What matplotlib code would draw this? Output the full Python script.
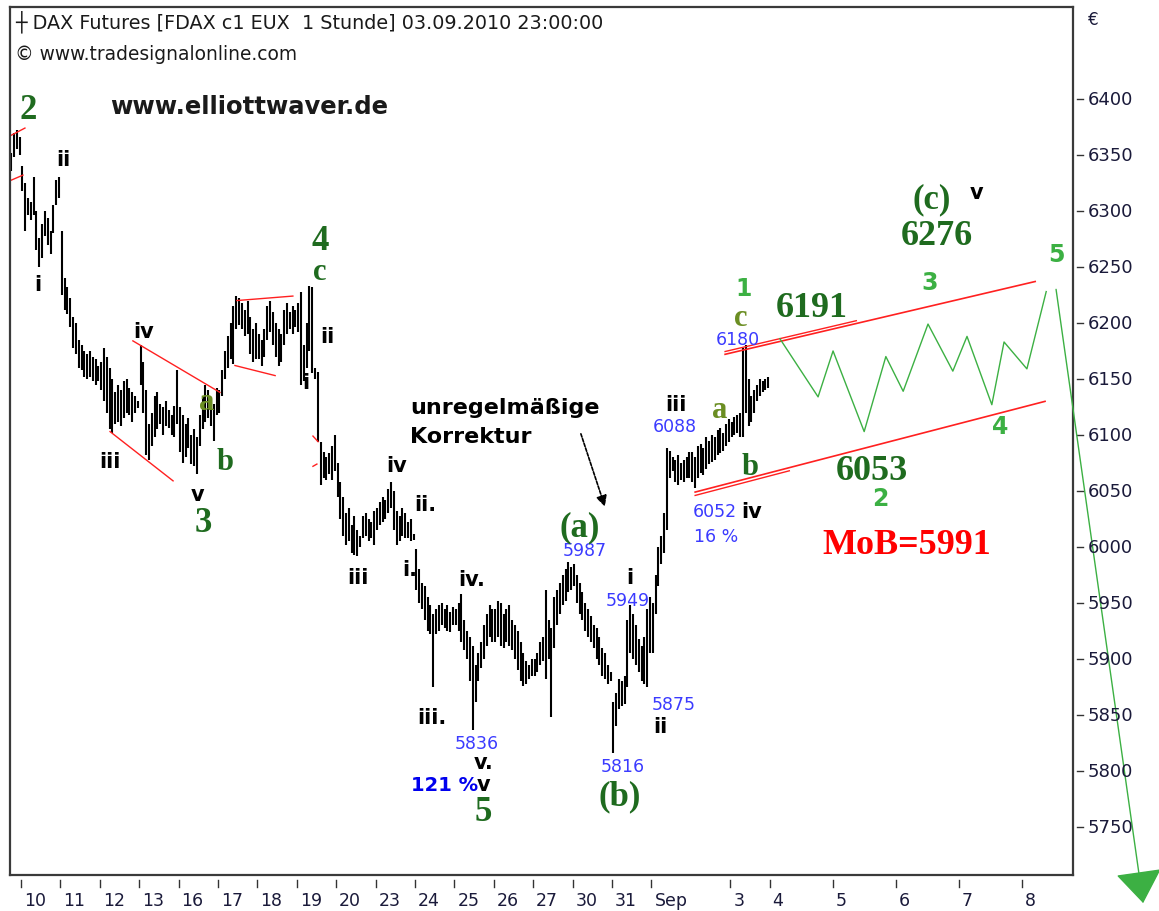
import numpy as np
import matplotlib
matplotlib.use('Agg')
import matplotlib.pyplot as plt
from matplotlib import transforms

# =========================================
# FDAX hourly bars (high / low), 14 bars a session
# =========================================
hi_0809 = [6352, 6370, 6372, 6366]  # last four hours only
lo_0809 = [6336, 6348, 6355, 6350]
hi_0810 = [6340, 6325, 6312, 6308, 6330, 6300, 6276, 6288, 6300, 6294, 6282, 6305, 6328, 6330]
lo_0810 = [6318, 6282, 6296, 6292, 6296, 6265, 6250, 6258, 6278, 6270, 6262, 6280, 6305, 6312]
hi_0811 = [6282, 6240, 6232, 6222, 6205, 6200, 6185, 6180, 6175, 6172, 6175, 6170, 6168, 6162]
lo_0811 = [6225, 6212, 6208, 6196, 6178, 6172, 6160, 6158, 6152, 6150, 6152, 6148, 6145, 6148]
hi_0812 = [6165, 6178, 6170, 6160, 6150, 6138, 6145, 6140, 6148, 6150, 6142, 6138, 6135, 6130]
lo_0812 = [6140, 6130, 6120, 6105, 6102, 6110, 6112, 6108, 6115, 6120, 6118, 6112, 6120, 6124]
hi_0813 = [6180, 6165, 6140, 6110, 6120, 6135, 6138, 6128, 6125, 6130, 6122, 6118, 6126, 6158]
lo_0813 = [6145, 6120, 6082, 6078, 6090, 6098, 6105, 6110, 6100, 6108, 6106, 6100, 6098, 6110]
hi_0816 = [6125, 6118, 6110, 6115, 6100, 6105, 6098, 6118, 6135, 6145, 6140, 6132, 6128, 6142]
lo_0816 = [6085, 6075, 6080, 6088, 6074, 6072, 6065, 6090, 6105, 6112, 6115, 6108, 6095, 6118]
hi_0817 = [6140, 6158, 6175, 6188, 6200, 6215, 6224, 6222, 6218, 6212, 6220, 6205, 6195, 6200]
lo_0817 = [6120, 6135, 6150, 6160, 6168, 6163, 6195, 6198, 6195, 6188, 6190, 6172, 6165, 6168]
hi_0818 = [6190, 6185, 6195, 6215, 6220, 6210, 6200, 6195, 6190, 6212, 6218, 6210, 6215, 6212]
lo_0818 = [6168, 6162, 6170, 6185, 6192, 6180, 6170, 6162, 6165, 6180, 6190, 6195, 6190, 6196]
hi_0819 = [6218, 6228, 6180, 6200, 6233, 6232, 6160, 6156, 6094, 6085, 6080, 6084, 6090, 6100]
lo_0819 = [6192, 6145, 6148, 6160, 6175, 6155, 6150, 6094, 6055, 6062, 6060, 6065, 6060, 6068]
hi_0820 = [6075, 6058, 6045, 6030, 6035, 6020, 6028, 6015, 6010, 6028, 6030, 6025, 6022, 6032]
lo_0820 = [6045, 6025, 6010, 6002, 6005, 5995, 5993, 5992, 6000, 6008, 6010, 6005, 6008, 6002]
hi_0823 = [6035, 6040, 6045, 6042, 6052, 6058, 6050, 6032, 6028, 6035, 6030, 6022, 6025, 6012]
lo_0823 = [6015, 6020, 6022, 6025, 6030, 6035, 6015, 6002, 6005, 6010, 6008, 6008, 6005, 6006]
hi_0824 = [5998, 5980, 5968, 5965, 5955, 5948, 5940, 5945, 5948, 5950, 5945, 5948, 5942, 5946]
lo_0824 = [5962, 5950, 5945, 5935, 5925, 5922, 5875, 5922, 5925, 5930, 5928, 5925, 5924, 5930]
hi_0825 = [5945, 5950, 5958, 5935, 5925, 5920, 5912, 5895, 5905, 5915, 5930, 5940, 5948, 5945]
lo_0825 = [5930, 5925, 5915, 5908, 5900, 5880, 5837, 5862, 5880, 5892, 5900, 5912, 5920, 5915]
hi_0826 = [5945, 5952, 5950, 5940, 5945, 5948, 5935, 5930, 5925, 5915, 5905, 5898, 5895, 5900]
lo_0826 = [5915, 5920, 5912, 5910, 5915, 5912, 5908, 5900, 5890, 5880, 5876, 5878, 5882, 5885]
hi_0827 = [5900, 5905, 5915, 5920, 5962, 5935, 5928, 5955, 5962, 5968, 5975, 5980, 5987, 5982]
lo_0827 = [5885, 5888, 5895, 5898, 5882, 5900, 5848, 5910, 5930, 5940, 5948, 5952, 5960, 5962]
hi_0830 = [5985, 5975, 5968, 5960, 5950, 5945, 5938, 5930, 5928, 5920, 5910, 5905, 5895, 5888]
lo_0830 = [5965, 5950, 5940, 5935, 5925, 5920, 5915, 5910, 5900, 5895, 5885, 5882, 5878, 5880]
hi_0831 = [5862, 5870, 5882, 5880, 5885, 5935, 5948, 5940, 5930, 5918, 5912, 5920, 5945, 5955]
lo_0831 = [5816, 5840, 5855, 5858, 5860, 5875, 5905, 5900, 5895, 5888, 5880, 5878, 5875, 5905]
hi_0901 = [5950, 5975, 6000, 6010, 6030, 6088, 6086, 6080, 6078, 6082, 6075, 6078, 6080, 6085]
lo_0901 = [5905, 5940, 5965, 5985, 5995, 6015, 6062, 6068, 6058, 6055, 6060, 6058, 6062, 6062]
hi_0902 = [6085, 6080, 6090, 6092, 6088, 6098, 6095, 6100, 6098, 6104, 6106, 6102, 6110, 6114]
lo_0902 = [6058, 6053, 6062, 6066, 6064, 6070, 6074, 6076, 6078, 6082, 6084, 6086, 6090, 6094]
hi_0903 = [6112, 6116, 6118, 6120, 6178, 6180, 6150, 6135, 6140, 6145, 6150, 6148, 6150, 6152]
lo_0903 = [6098, 6100, 6102, 6098, 6098, 6120, 6108, 6112, 6120, 6130, 6135, 6138, 6140, 6142]

# (trading day index, first hour, highs, lows)
sessions = [
    (-1, 10, hi_0809, lo_0809), (0, 0, hi_0810, lo_0810), (1, 0, hi_0811, lo_0811),
    (2, 0, hi_0812, lo_0812), (3, 0, hi_0813, lo_0813), (4, 0, hi_0816, lo_0816),
    (5, 0, hi_0817, lo_0817), (6, 0, hi_0818, lo_0818), (7, 0, hi_0819, lo_0819),
    (8, 0, hi_0820, lo_0820), (9, 0, hi_0823, lo_0823), (10, 0, hi_0824, lo_0824),
    (11, 0, hi_0825, lo_0825), (12, 0, hi_0826, lo_0826), (13, 0, hi_0827, lo_0827),
    (14, 0, hi_0830, lo_0830), (15, 0, hi_0831, lo_0831), (16, 0, hi_0901, lo_0901),
    (17, 0, hi_0902, lo_0902), (18, 0, hi_0903, lo_0903),
]

day_ticks = [0, 1, 2, 3, 4, 5, 6, 7, 8, 9, 10, 11, 12, 13, 14, 15, 16, 18, 19,
             20.6, 22.2, 23.8, 25.4]
day_labels = ['10', '11', '12', '13', '16', '17', '18', '19', '20', '23', '24',
              '25', '26', '27', '30', '31', 'Sep', '3', '4', '5', '6', '7', '8']
price_ticks = [5750, 5800, 5850, 5900, 5950, 6000, 6050, 6100, 6150, 6200,
               6250, 6300, 6350, 6400]

# projected path (wave 1-5 inside the channel, then the drop)
fc_day = [19.26, 20.23, 20.61, 21.40, 21.95, 22.39, 23.02, 23.65, 24.01,
          24.64, 24.95, 25.53, 26.02]
fc_price = [6186, 6134, 6175, 6103, 6170, 6139, 6199, 6157, 6188, 6127,
            6183, 6159, 6228]
drop_day = [26.27, 28.48]
drop_price = [6230, 5682]

# channel
chan_hi_day = [17.87, 25.74]
chan_hi_price = [6172, 6237]
chan_lo_day = [17.11, 25.99]
chan_lo_price = [6049, 6130]

# older red trend lines: (day0, price0, day1, price1)
trend_segs = [
    (-0.28, 6367, 0.10, 6374),
    (-0.28, 6327, 0.05, 6332),
    (2.26, 6103, 3.86, 6059),
    (2.84, 6184, 5.05, 6138),
    (5.48, 6220, 6.90, 6224),
    (5.43, 6162, 6.45, 6153),
    (7.41, 6099, 7.54, 6094),
    (7.41, 6072, 7.51, 6074),
]

DKGREEN = '#1f6b1f'
OLIVE = '#6b8e23'
LTGREEN = '#3cb043'
BLUE = '#3b3bff'
SERIF = 'Liberation Serif'
SANS = 'DejaVu Sans'

fig = plt.figure(figsize=(11.59, 9.12), dpi=100)
ax = fig.add_axes([10 / 1159, 36 / 912, 1063 / 1159, 868 / 912])
ax.set_xlim(-0.279, 26.70)
ax.set_ylim(5707.1, 6482.1)
ax.set_xticks([])
ax.set_yticks([])
for sp in ax.spines.values():
    sp.set_color('#3a3a3a')
    sp.set_linewidth(1.6)

# bars
for day, start, hi, lo in sessions:
    x = day + (np.arange(len(hi)) + start + 0.5) / 14
    ax.vlines(x, lo, hi, color='black', lw=1.5)

# trend lines
for d0, p0, d1, p1 in trend_segs:
    ax.plot([d0, d1], [p0, p1], color='#ff2020', lw=1.0)
ax.plot(chan_hi_day, chan_hi_price, color='#ff2020', lw=1.2)
ax.plot(chan_lo_day, chan_lo_price, color='#ff2020', lw=1.2)
ax.plot([chan_hi_day[0], 21.2], [chan_hi_price[0] + 2.5, 6202], color='#ff2020', lw=1.0)
ax.plot([chan_lo_day[0], 19.5], [chan_lo_price[0] - 3, 6068], color='#ff2020', lw=1.0)

# projection
ax.plot(fc_day, fc_price, color=LTGREEN, lw=1.0)
ax.annotate('', xy=(drop_day[1], drop_price[1]), xytext=(drop_day[0], drop_price[0]),
            annotation_clip=False,
            arrowprops=dict(arrowstyle='-|>,head_length=0.7,head_width=0.5',
                            color=LTGREEN, lw=1.0, mutation_scale=30,
                            shrinkA=0, shrinkB=0))

# axis ticks drawn outside the frame
bx = transforms.blended_transform_factory(ax.transData, ax.transAxes)
by = transforms.blended_transform_factory(ax.transAxes, ax.transData)
for d, lab in zip(day_ticks, day_labels):
    ax.plot([d, d], [-0.0058, -0.0138], transform=bx, color='#333333', lw=1.0,
            clip_on=False)
    ax.annotate(lab, xy=(d, 0), xycoords=bx, xytext=(3, -16),
                textcoords='offset pixels', ha='left', va='top',
                fontsize=12.5, family=SANS, color='#1a1a3a')
for p in price_ticks:
    ax.plot([1.0038, 1.0094], [p, p], transform=by, color='#333333', lw=1.0,
            clip_on=False)
    ax.text(1.0141, p, str(p), transform=by, ha='left', va='center',
            fontsize=13, family=SANS, color='#1a1a3a')
fig.text(1088 / 1159, 1 - 20 / 912, '€', ha='left', va='center', fontsize=12,
         family=SANS, color='#1a1a3a')

# header
fig.text(15 / 1159, 1 - 22 / 912,
         '┼ DAX Futures [FDAX c1 EUX  1 Stunde] 03.09.2010 23:00:00',
         ha='left', va='center', fontsize=13.8, family=SANS, color='#1a1a1a')
fig.text(15 / 1159, 1 - 55 / 912, '© www.tradesignalonline.com', ha='left',
         va='center', fontsize=13.4, family=SANS, color='#1a1a1a')
fig.text(110 / 1159, 1 - 107 / 912, 'www.elliottwaver.de', ha='left',
         va='center', fontsize=17.5, family=SANS, weight='bold', color='#1a1a1a')


def lab(txt, d, p, color='black', size=15, family=SANS, ha='center'):
    ax.text(d, p, txt, color=color, fontsize=size, family=family,
            weight='bold', ha=ha, va='center')


# main waves
for txt, d, p in [('2', 0.18, 6391), ('3', 4.62, 6022), ('4', 7.59, 6274),
                  ('5', 11.73, 5764)]:
    lab(txt, d, p, DKGREEN, 25, SERIF)
lab('c', 7.59, 6246, DKGREEN, 22, SERIF)
lab('a', 4.72, 6130, OLIVE, 22, SERIF)
lab('b', 5.18, 6076, DKGREEN, 22, SERIF)

# sub waves
for txt, d, p in [('ii', 1.07, 6346), ('i', 0.43, 6235), ('iv', 3.10, 6193),
                  ('iii', 2.26, 6077), ('v', 4.47, 6047), ('ii', 7.77, 6188),
                  ('i', 7.23, 6147), ('iv', 9.54, 6073), ('ii.', 10.25, 6038),
                  ('iii', 8.55, 5973), ('i.', 9.87, 5980), ('iv.', 11.45, 5971),
                  ('iii.', 10.43, 5848), ('v.', 11.75, 5808), ('v', 11.75, 5788),
                  ('i', 15.46, 5973), ('ii', 16.22, 5840), ('iii', 16.62, 6128),
                  ('iv', 18.55, 6032)]:
    lab(txt, d, p, 'black', 15)

# price marks
for txt, d, p in [('5836', 11.57, 5825), ('5987', 14.31, 5997), ('5949', 15.41, 5953),
                  ('5875', 16.57, 5860), ('5816', 15.28, 5804), ('6088', 16.60, 6108),
                  ('6052', 17.61, 6032), ('16 %', 17.64, 6010), ('6180', 18.20, 6186)]:
    ax.text(d, p, txt, color=BLUE, fontsize=12.5, family=SANS, ha='center',
            va='center')
lab('121 %', 10.76, 5788, '#0000ee', 14)

lab('(a)', 14.19, 6018, DKGREEN, 25, SERIF)
lab('(b)', 15.20, 5778, DKGREEN, 25, SERIF)
lab('a', 17.74, 6123, OLIVE, 22, SERIF)
lab('b', 18.50, 6072, DKGREEN, 22, SERIF)
lab('c', 18.27, 6205, OLIVE, 22, SERIF)
lab('1', 18.35, 6231, LTGREEN, 17)

ax.text(9.87, 6125, 'unregelmäßige', fontsize=16, family=SANS, weight='bold',
        ha='left', va='center')
ax.text(9.87, 6099, 'Korrektur', fontsize=16, family=SANS, weight='bold',
        ha='left', va='center')
ax.annotate('', xy=(14.82, 6036), xytext=(14.21, 6101),
            arrowprops=dict(arrowstyle='-|>', color='black', lw=1.2,
                            linestyle=(0, (2, 1)), mutation_scale=16,
                            shrinkA=0, shrinkB=0))

# targets
lab('6191', 20.08, 6214, DKGREEN, 26, SERIF)
lab('(c)', 23.12, 6311, DKGREEN, 25, SERIF)
lab('v', 24.24, 6317, 'black', 15)
lab('6276', 23.25, 6278, DKGREEN, 26, SERIF)
lab('6053', 21.60, 6068, DKGREEN, 26, SERIF)
lab('MoB=5991', 22.49, 6002, '#ff0000', 26, SERIF)
for txt, d, p in [('3', 23.07, 6237), ('5', 26.29, 6262), ('4', 24.85, 6108),
                  ('2', 21.80, 6044)]:
    lab(txt, d, p, LTGREEN, 17)

fig.savefig('out.png', dpi=100, facecolor='white')
